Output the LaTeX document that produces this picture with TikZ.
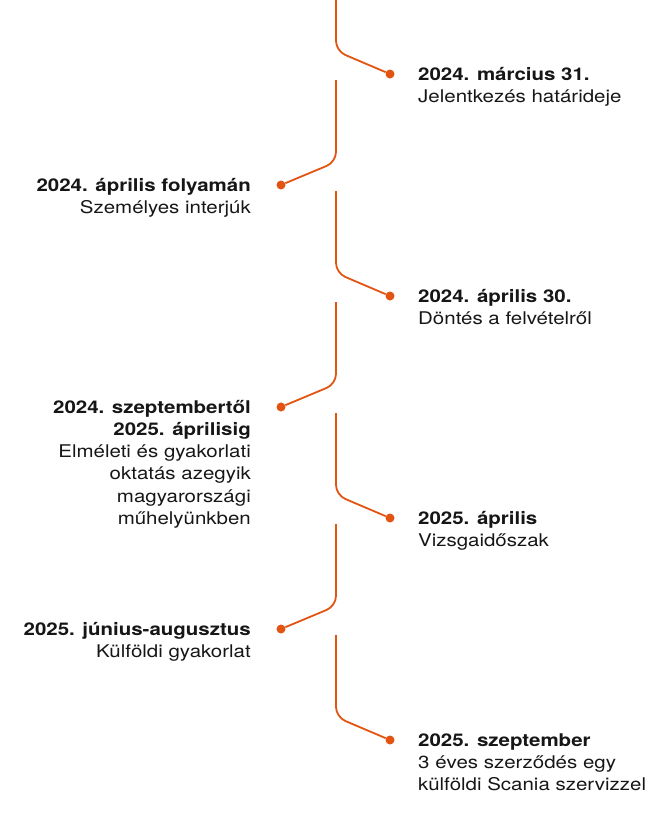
\documentclass[tikz,border=0pt]{standalone}
\usepackage{fontspec}
\setmainfont[FakeStretch=1.17]{TeX Gyre Heros}
\usetikzlibrary{positioning,calc}
\definecolor{TlOrange}{RGB}{226,84,18}
\definecolor{TlInk}{RGB}{22,22,22}
\tikzset{
  tl line/.style={
    draw=TlOrange,
    line width=1.8pt,
    rounded corners=10pt
  },
  tl dot/.style={circle, fill=TlOrange, inner sep=0pt, minimum size=9pt},
  tl text/.style={
    text=TlInk,
    inner sep=0pt,
    font=\fontsize{17.5}{22.2}\selectfont
  },
  tl right/.style={tl text, anchor=north west, align=left},
  tl left/.style={tl text, anchor=north east, align=right}
}

\begin{document}
\begin{tikzpicture}[x=1pt, y=-1pt]
\useasboundingbox (0,0) rectangle (668,830);

% dots
\node[tl dot] (d1) at (390,74) {};
\node[tl dot] (d2) at (281,185) {};
\node[tl dot] (d3) at (390,296) {};
\node[tl dot] (d4) at (281,407) {};
\node[tl dot] (d5) at (390,518) {};
\node[tl dot] (d6) at (281,629) {};
\node[tl dot] (d7) at (390,740) {};

% segment tops and bends
\coordinate (a1) at (336,-2);  \coordinate (b1) at (336,51);
\coordinate (a2) at (336,80);  \coordinate (b2) at (336,162);
\coordinate (a3) at (336,191); \coordinate (b3) at (336,273);
\coordinate (a4) at (336,302); \coordinate (b4) at (336,384);
\coordinate (a5) at (336,413); \coordinate (b5) at (336,495);
\coordinate (a6) at (336,524); \coordinate (b6) at (336,606);
\coordinate (a7) at (336,635); \coordinate (b7) at (336,717);

\draw[tl line] (a1)--(b1)--(d1);
\draw[tl line] (a2)--(b2)--(d2);
\draw[tl line] (a3)--(b3)--(d3);
\draw[tl line] (a4)--(b4)--(d4);
\draw[tl line] (a5)--(b5)--(d5);
\draw[tl line] (a6)--(b6)--(d6);
\draw[tl line] (a7)--(b7)--(d7);

% labels (top of strut = baseline - 15.5)
\node[tl right] (t1) at (418,64.5) {\strut\textbf{2024. március 31.}\\Jelentkezés határideje};
\node[tl left] (t2) at (251,175.5) {\strut\textbf{2024. április folyamán}\\Személyes interjúk};
\node[tl right] (t3) at (418,286.5) {\strut\textbf{2024. április 30.}\\Döntés a felvételről};
\node[tl left] (t4) at (251,397.5) {\strut\textbf{2024. szeptembertől}\\\textbf{2025. áprilisig}\\Elméleti és gyakorlati\\oktatás azegyik\\magyarországi\\műhelyünkben};
\node[tl right] (t5) at (418,508.5) {\strut\textbf{2025. április}\\Vizsgaidőszak};
\node[tl left] (t6) at (251,619.5) {\strut\textbf{2025. június-augusztus}\\Külföldi gyakorlat};
\node[tl right] (t7) at (418,730.5) {\strut\textbf{2025. szeptember}\\3 éves szerződés egy\\külföldi Scania szervizzel};
\end{tikzpicture}
\end{document}
